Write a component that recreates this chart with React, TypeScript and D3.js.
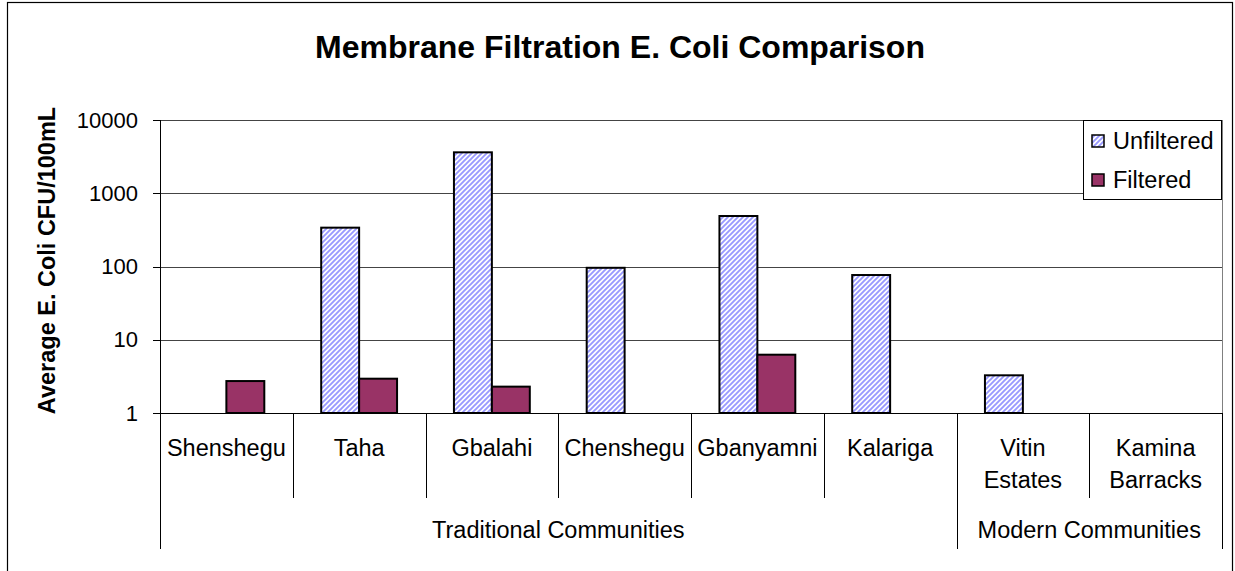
import React from "react";
import * as d3 from "d3";

const categories = ["Shenshegu", "Taha", "Gbalahi", "Chenshegu", "Gbanyamni", "Kalariga", "Vitin Estates", "Kamina Barracks"];
const groupNames = ["Traditional Communities", "Modern Communities"];
const groupSizes = [6, 2];
const seriesNames = ["Unfiltered", "Filtered"];
const unfiltered: (number | null)[] = [null, 339, 3620, 96, 489, 76.5, 3.27, null];
const filtered: (number | null)[] = [2.73, 2.94, 2.29, null, 6.25, null, null, null];
const yTicks = [1, 10, 100, 1000, 10000];
const yTickLabels = ["1", "10", "100", "1000", "10000"];
const title = "Membrane Filtration E. Coli Comparison";
const yTitle = "Average E. Coli CFU/100mL";

const W = 1235;
const H = 571;
const L = 160, R = 1222, T = 120, B = 413;
const FONT = "'Liberation Sans', Arial, sans-serif";
const FILT_COLOR = "#993366";
const HATCH = "#9999ff";

export default function App() {
  const x = d3.scaleBand<string>().domain(categories).range([L, R]).paddingInner(0).paddingOuter(0);
  const xs = d3.scaleBand<string>().domain(seriesNames).range([0, x.bandwidth()]).paddingInner(0).paddingOuter(0.75);
  const y = d3.scaleLog().domain([1, 10000]).range([B, T]);
  const series = [unfiltered, filtered];
  const fills = ["url(#hatch)", FILT_COLOR];

  const groupBounds: { name: string; x0: number; x1: number }[] = [];
  let idx = 0;
  groupNames.forEach((g, i) => {
    const x0 = x(categories[idx])!;
    const last = categories[idx + groupSizes[i] - 1];
    const x1 = x(last)! + x.bandwidth();
    groupBounds.push({ name: g, x0, x1 });
    idx += groupSizes[i];
  });
  const boundaryXs = new Set<number>();
  groupBounds.forEach((g) => { boundaryXs.add(Math.round(g.x0)); boundaryXs.add(Math.round(g.x1)); });
  const catEdges = categories.map((c) => x(c)!).concat([R]);

  return (
    <svg width={W} height={H} style={{ position: "absolute", left: 0, top: 0, background: "#fff" }} fontFamily={FONT}>
      <defs>
        <pattern id="hatch" patternUnits="userSpaceOnUse" width={5} height={5}>
          <rect x={0} y={0} width={5} height={5} fill="#ffffff" />
          <path d="M-1,6 L6,-1 M-1,1 L1,-1 M4,6 L6,4" stroke={HATCH} strokeWidth={1.9} />
        </pattern>
      </defs>
      <rect x={0} y={0} width={W} height={H} fill="#fff" />
      <rect x={7.5} y={2.5} width={1225} height={H + 20} fill="none" stroke="#000" strokeWidth={1.2} />

      <text x={620} y={47} textAnchor="middle" dominantBaseline="central" fontSize={32} fontWeight="bold" fill="#000">{title}</text>

      <text transform={`translate(47,${(T + B) / 2 - 6}) rotate(-90)`} textAnchor="middle" dominantBaseline="central" fontSize={23.5} fontWeight="bold">{yTitle}</text>

      {yTicks.map((t) => (
        <line key={"g" + t} x1={L} x2={R} y1={Math.round(y(t)) + 0.5} y2={Math.round(y(t)) + 0.5} stroke={t === 1 ? "#000" : "#444"} strokeWidth={1} />
      ))}
      <line x1={R + 0.5} x2={R + 0.5} y1={T} y2={B} stroke="#808080" strokeWidth={1} />

      {series.map((s, si) =>
        s.map((v, ci) =>
          v == null ? null : (
            <rect
              key={`b${si}-${ci}`}
              x={x(categories[ci])! + xs(seriesNames[si])!}
              y={y(v)}
              width={xs.bandwidth()}
              height={B - y(v)}
              fill={fills[si]}
              stroke="#000"
              strokeWidth={2}
            />
          )
        )
      )}

      <line x1={L + 0.5} x2={L + 0.5} y1={T} y2={B} stroke="#000" strokeWidth={1} />
      {yTicks.map((t, i) => (
        <g key={"t" + t}>
          <line x1={L - 7} x2={L} y1={Math.round(y(t)) + 0.5} y2={Math.round(y(t)) + 0.5} stroke="#000" />
          <text x={L - 22} y={y(t)} textAnchor="end" dominantBaseline="central" fontSize={22}>{yTickLabels[i]}</text>
        </g>
      ))}

      {catEdges.map((ex, i) => {
        const isGroup = boundaryXs.has(Math.round(ex));
        return <line key={"d" + i} x1={Math.round(ex) + 0.5} x2={Math.round(ex) + 0.5} y1={B} y2={isGroup ? 549 : 498} stroke="#000" strokeWidth={1} />;
      })}

      {categories.map((c) => {
        const words = c.split(" ");
        const cx = x(c)! + x.bandwidth() / 2;
        return (
          <text key={"c" + c} x={cx} textAnchor="middle" fontSize={23.5}>
            {words.map((w, wi) => (
              <tspan key={wi} x={cx} y={456 + wi * 32}>{w}</tspan>
            ))}
          </text>
        );
      })}

      {groupBounds.map((g) => (
        <text key={g.name} x={(g.x0 + g.x1) / 2} y={538} textAnchor="middle" fontSize={23.5}>{g.name}</text>
      ))}

      <rect x={1083.5} y={120.5} width={138} height={79} fill="#fff" stroke="#000" strokeWidth={1} />
      {seriesNames.map((s, i) => (
        <g key={"l" + s}>
          <rect x={1092} y={135 + i * 39} width={12} height={12} fill={fills[i]} stroke="#000" strokeWidth={1.5} />
          <text x={1113} y={141 + i * 39} dominantBaseline="central" fontSize={23.5}>{s}</text>
        </g>
      ))}
    </svg>
  );
}
